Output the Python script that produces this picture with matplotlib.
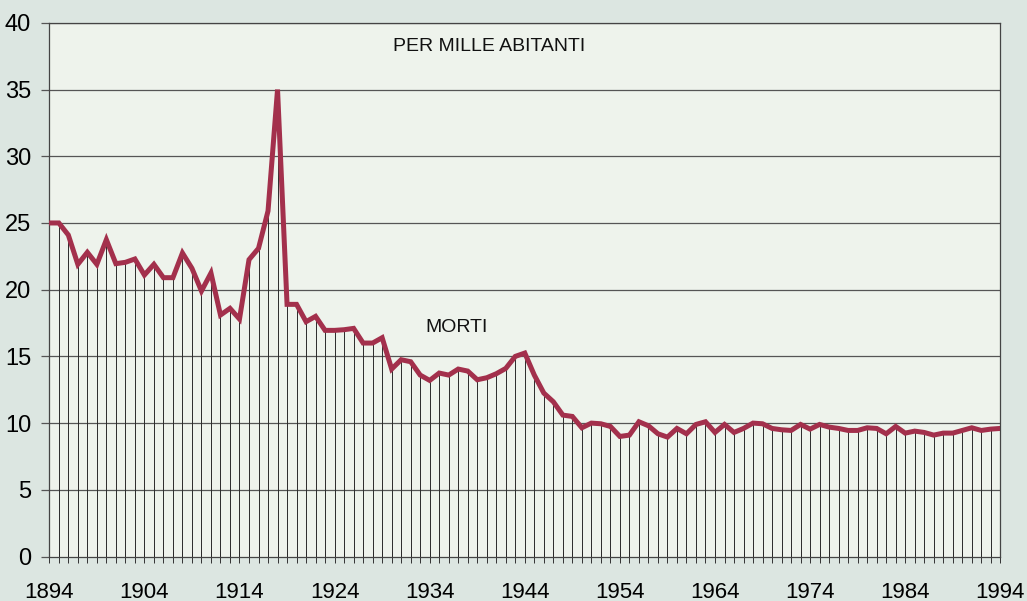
import matplotlib
matplotlib.use('Agg')
import matplotlib.pyplot as plt
import numpy as np

plt.rcParams['font.family'] = ['Liberation Sans', 'DejaVu Sans']

# tasso di mortalita' per mille abitanti, 1894-1994
anni = list(range(1894, 1995))
morti = [
    25.0, 25.0, 24.1, 21.9, 22.8, 21.9, 23.75, 21.95, 22.05, 22.3,   # 1894-1903
    21.1, 21.9, 20.9, 20.9, 22.75, 21.6, 19.9, 21.25, 18.1, 18.6,    # 1904-1913
    17.8, 22.25, 23.1, 25.9, 35.0, 18.9, 18.9, 17.6, 18.0, 16.95,    # 1914-1923
    16.95, 17.0, 17.1, 16.0, 16.0, 16.4, 14.05, 14.75, 14.6, 13.6,   # 1924-1933
    13.2, 13.75, 13.6, 14.05, 13.9, 13.25, 13.4, 13.7, 14.1, 15.0,   # 1934-1943
    15.25, 13.6, 12.25, 11.6, 10.6, 10.5, 9.65, 10.0, 9.95, 9.75,    # 1944-1953
    9.0, 9.1, 10.1, 9.8, 9.2, 8.95, 9.6, 9.2, 9.9, 10.1,             # 1954-1963
    9.3, 9.9, 9.3, 9.6, 10.0, 9.95, 9.6, 9.5, 9.45, 9.9,             # 1964-1973
    9.55, 9.9, 9.7, 9.6, 9.45, 9.45, 9.65, 9.6, 9.2, 9.75,           # 1974-1983
    9.25, 9.4, 9.3, 9.1, 9.25, 9.25, 9.45, 9.65, 9.45, 9.55,         # 1984-1993
    9.6,                                                             # 1994
]
etichette_x = list(range(1894, 1995, 10))
etichette_y = list(range(0, 41, 5))

fig = plt.figure(figsize=(10.27, 6.01), dpi=100, facecolor='#dce6e1')
ax = fig.add_axes([0.048, 0.074, 0.926, 0.888])
ax.set_facecolor('#eef3ec')

# linee verticali dallo zero alla curva
ax.vlines(anni, 0, morti, color='#2a2a2a', linewidth=0.7, zorder=2)

# griglia orizzontale
for v in etichette_y[1:]:
    ax.axhline(v, color='#555555', linewidth=0.9, zorder=1)

ax.plot(anni, morti, color='#a3304c', linewidth=3.6, solid_joinstyle='miter',
        zorder=4)

ax.set_xlim(1894, 1994)
ax.set_ylim(0, 40)
ax.set_xticks(etichette_x)
ax.set_xticks(anni, minor=True)
ax.set_yticks(etichette_y)
ax.tick_params(axis='x', which='both', direction='inout', length=8,
               width=0.7, color='#333333', labelsize=16, pad=14)
ax.tick_params(axis='y', direction='out', length=6, width=0.9,
               color='#555555', labelsize=17, pad=7)

for side in ['left', 'right', 'top', 'bottom']:
    ax.spines[side].set_color('#444444')
    ax.spines[side].set_linewidth(0.9)

ax.text(1940.3, 38.2, 'PER MILLE ABITANTI', fontsize=14, ha='center',
        va='center', color='#111111')
ax.text(1936.8, 17.2, 'MORTI', fontsize=14, ha='center', va='center',
        color='#111111')

fig.savefig('out.png', dpi=100, facecolor=fig.get_facecolor())
